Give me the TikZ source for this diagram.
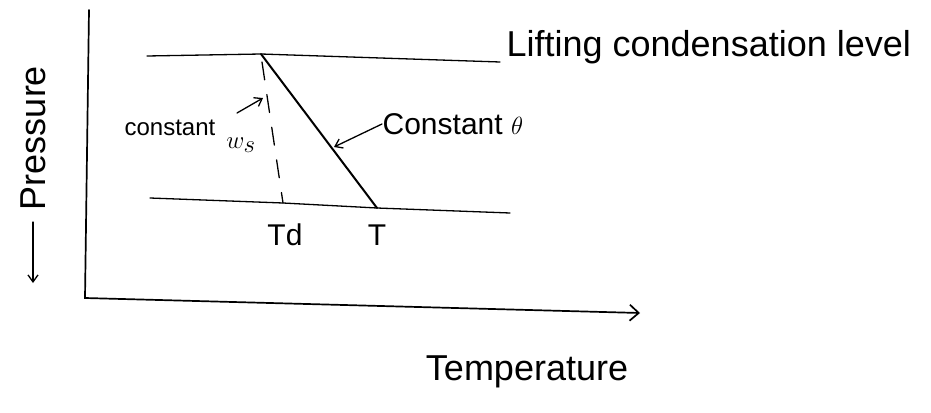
\documentclass[tikz,border=0pt]{standalone}
\usepackage{fontspec}
\setmainfont{Liberation Sans}
\usetikzlibrary{arrows.meta}
\begin{document}
\begin{tikzpicture}[x=1pt,y=-1pt,line width=1.3pt,line cap=round,
  biglbl/.style={inner sep=0pt,font=\fontsize{36}{36}\selectfont},
  lbl/.style={inner sep=0pt,font=\fontsize{30}{30}\selectfont},
  smalllbl/.style={inner sep=0pt,font=\fontsize{24}{24}\selectfont},
  tip/.style={-{Straight Barb[length=7pt,width=10pt,line width=1.3pt]}},
  axis/.style={line width=1.7pt,-{Straight Barb[length=9pt,width=16pt,line width=1.7pt]}}]
\useasboundingbox (0,0) rectangle (931,412);
% axes
\coordinate (ytop) at (89,10);
\coordinate (O) at (85,298);
\coordinate (xend) at (640,313);
\draw[axis] (ytop) -- (O) -- (xend);
% lifting condensation level
\coordinate (LCLl) at (147,56);
\coordinate (A) at (261,54);
\coordinate (LCLr) at (500,62);
\draw (LCLl) -- (A) -- (LCLr);
\node[biglbl,anchor=west] (lcl) at (506,47) {Lifting condensation level};
% lower level
\coordinate (LLl) at (150,198);
\coordinate (D) at (283,203);
\coordinate (B) at (377,208);
\coordinate (LLr) at (510,213);
\draw (LLl) -- (D) -- (B) -- (LLr);
% dry adiabat
\draw[line width=2pt] (A) -- (B);
% constant mixing ratio (dashed)
\draw[dashed,dash pattern=on 18pt off 15pt] ([shift={(1,8)}]A) -- (D);
% labels
\node[lbl] (Td) at (285,235) {Td};
\node[lbl] (T) at (377,235) {T};
\node[smalllbl] (cst) at (170,128) {constant};
\node[inner sep=0pt,font=\fontsize{36}{36}\selectfont] (ws) at (241,145) {$w_s$};
\coordinate (wsTail) at (237,113);
\coordinate (wsTip) at (263,98);
\draw[tip] (wsTail) -- (wsTip);
\node[lbl,anchor=west] (cth) at (382,124) {Constant $\theta$};
\coordinate (thTip) at (334,147);
\draw[tip] (cth.west) -- (thTip);
\node[biglbl] (temp) at (527,372) {Temperature};
\node[biglbl,rotate=90] (pres) at (33,138) {Pressure};
\coordinate (pTop) at (33,222);
\coordinate (pBot) at (33,283);
\draw[tip] (pTop) -- (pBot);
\end{tikzpicture}
\end{document}
